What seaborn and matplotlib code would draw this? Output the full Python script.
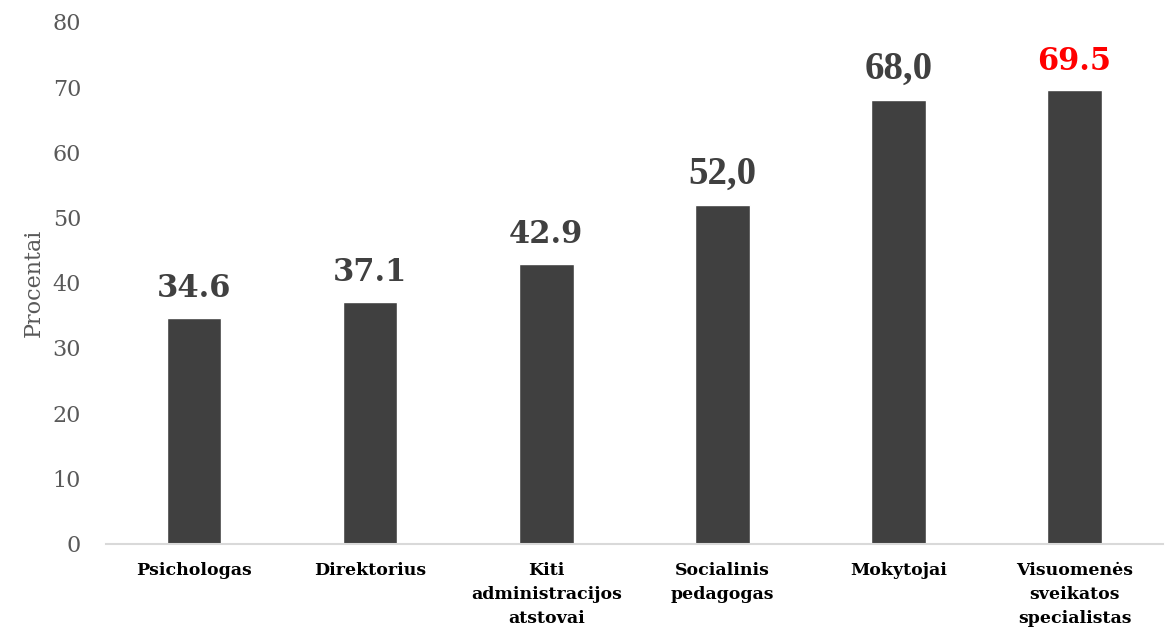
"""
Procentai pagal specialistų grupes - bar chart
"""

# %% Imports
import pandas as pd
import seaborn as sns
from matplotlib import pyplot as plt

# %% Data
CATEGORIES = [
    "Psichologas",
    "Direktorius",
    "Kiti\nadministracijos\natstovai",
    "Socialinis\npedagogas",
    "Mokytojai",
    "Visuomenės\nsveikatos\nspecialistas",
]
VALUES = [34.6, 37.1, 42.9, 52.0, 68.0, 69.5]
VALUE_LABELS = ["34.6", "37.1", "42.9", "52,0", "68,0", "69.5"]
LABEL_COLORS = ["#404040", "#404040", "#404040", "#404040", "#404040", "#ff0000"]
LABEL_FONTS = ["DejaVu Serif", "DejaVu Serif", "DejaVu Serif", "Liberation Serif", "Liberation Serif", "DejaVu Serif"]
Y_TICKS = [0, 10, 20, 30, 40, 50, 60, 70, 80]

df = pd.DataFrame({"group": CATEGORIES, "value": VALUES})

# %% Plot
sns.set_style("white")
plt.rcParams["font.family"] = ["DejaVu Serif"]

fig = plt.figure(figsize=(11.65, 6.27), dpi=100)
ax = fig.add_axes([0.091, 0.133, 0.907, 0.832])

sns.barplot(df, x="group", y="value", color="#404040", saturation=1, width=0.31, ax=ax)

ax.set_xlim(-0.5, len(CATEGORIES) - 0.5)
ax.set_ylim(0, 80)
ax.set_yticks(Y_TICKS)
ax.tick_params(axis="y", length=0, pad=18, labelsize=16, labelcolor="#595959")
ax.tick_params(axis="x", length=0, pad=13)
ax.set_xticks(range(len(CATEGORIES)))
ax.set_xticklabels(CATEGORIES, fontsize=12.5, fontweight="bold", color="black", linespacing=1.55, va="top")

ax.spines[["top", "right", "left"]].set_visible(False)
ax.spines["bottom"].set_color("#d9d9d9")
ax.spines["bottom"].set_linewidth(1.5)

ax.set_xlabel("")
ax.set_ylabel("Procentai", fontsize=16, color="#595959")
ax.yaxis.set_label_coords(-0.058, 0.5)

# value labels above bars (baseline about 3.2 units over the bar top)
for i, (v, lab, col, fam) in enumerate(zip(VALUES, VALUE_LABELS, LABEL_COLORS, LABEL_FONTS)):
    size = 28 if fam == "Liberation Serif" else 22
    ax.text(i, v + 3.2, lab, ha="center", va="baseline", fontsize=size, fontweight="bold", color=col, family=fam)

plt.savefig("out.png", dpi=100)
